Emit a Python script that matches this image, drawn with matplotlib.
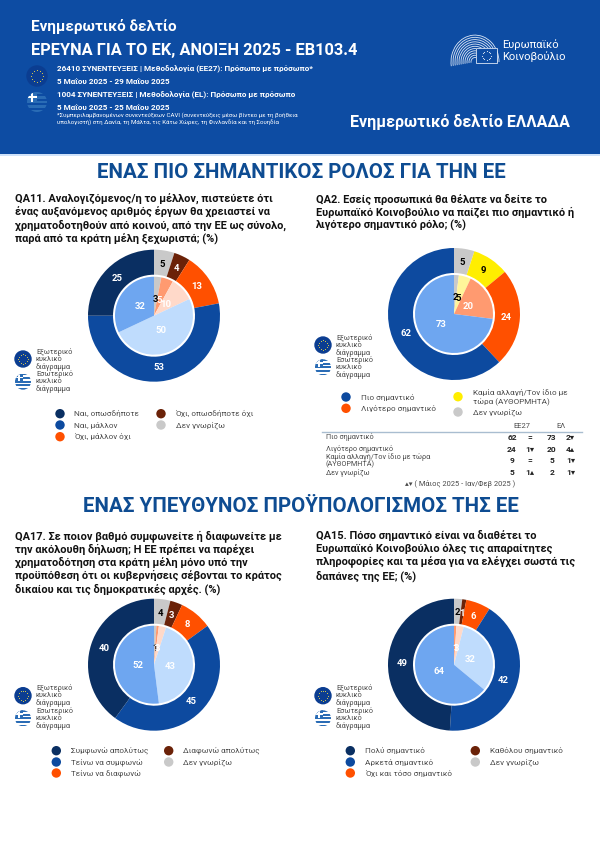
import numpy as np
import matplotlib
matplotlib.use("Agg")
import matplotlib.pyplot as plt
from matplotlib.patches import Circle, Rectangle, Arc

plt.rcParams['font.family'] = ['Roboto', 'DejaVu Sans']

W, H = 600, 848

# colours
NAVY = "#0a2f62"
BLUE = "#0d4a9f"
ORANGE = "#ff5000"
BROWN = "#6b2208"
GREY = "#c9c9c9"
YELLOW = "#ffee00"
MID = "#6ea6f0"
PALE = "#bfdcfd"
SALMON = "#ff9a70"
PEACH = "#ffd9c9"
PALEY = "#fff59a"
HEAD = "#0d4ca3"
TITLE = "#0e4c92"
TXT = "#4a4a4a"

# QA11
qa11_outer = [5, 4, 13, 53, 25]
qa11_inner = [3, 5, 10, 50, 32]
qa11_legend = ["Ναι, οπωσδήποτε", "Ναι, μάλλον", "Όχι, μάλλον όχι", "Όχι, οπωσδήποτε όχι", "Δεν γνωρίζω"]
qa11_text = ["QA11. Αναλογιζόμενος/η το μέλλον, πιστεύετε ότι",
             "ένας αυξανόμενος αριθμός έργων θα χρειαστεί να",
             "χρηματοδοτηθούν από κοινού, από την ΕΕ ως σύνολο,",
             "παρά από τα κράτη μέλη ξεχωριστά; (%)"]

# QA2
qa2_outer = [5, 9, 24, 62]
qa2_inner = [2, 5, 20, 73]
qa2_text = ["QA2. Εσείς προσωπικά θα θέλατε να δείτε το",
            "Ευρωπαϊκό Κοινοβούλιο να παίζει πιο σημαντικό ή",
            "λιγότερο σημαντικό ρόλο; (%)"]
qa2_rows = ["Πιο σημαντικό", "Λιγότερο σημαντικό", "Καμία αλλαγή/Τον ίδιο με τώρα\n(ΑΥΘΟΡΜΗΤΑ)", "Δεν γνωρίζω"]
qa2_eu = ["62", "24", "9", "5"]
qa2_eu_diff = ["=", "1▾", "=", "1▴"]
qa2_el = ["73", "20", "5", "2"]
qa2_el_diff = ["2▾", "4▴", "1▾", "1▾"]

# QA17
qa17_outer = [4, 3, 8, 45, 40]
qa17_inner = [1, 1, 3, 43, 52]
qa17_legend = ["Συμφωνώ απολύτως", "Τείνω να συμφωνώ", "Τείνω να διαφωνώ", "Διαφωνώ απολύτως", "Δεν γνωρίζω"]
qa17_text = ["QA17. Σε ποιον βαθμό συμφωνείτε ή διαφωνείτε με",
             "την ακόλουθη δήλωση; Η ΕΕ πρέπει να παρέχει",
             "χρηματοδότηση στα κράτη μέλη μόνο υπό την",
             "προϋπόθεση ότι οι κυβερνήσεις σέβονται το κράτος",
             "δικαίου και τις δημοκρατικές αρχές. (%)"]

# QA15
qa15_outer = [2, 1, 6, 42, 49]
qa15_inner = [0, 1, 3, 32, 64]
qa15_legend = ["Πολύ σημαντικό", "Αρκετά σημαντικό", "Όχι και τόσο σημαντικό", "Καθόλου σημαντικό", "Δεν γνωρίζω"]
qa15_text = ["QA15. Πόσο σημαντικό είναι να διαθέτει το",
             "Ευρωπαϊκό Κοινοβούλιο όλες τις απαραίτητες",
             "πληροφορίες και τα μέσα για να ελέγχει σωστά τις",
             "δαπάνες της ΕΕ; (%)"]

outer5 = [GREY, BROWN, ORANGE, BLUE, NAVY]
inner5 = [GREY, SALMON, PEACH, PALE, MID]
outer4 = [GREY, YELLOW, ORANGE, BLUE]
inner4 = [GREY, PALEY, SALMON, MID]
legend5 = [NAVY, BLUE, ORANGE, BROWN, GREY]

fig = plt.figure(figsize=(W / 100, H / 100), dpi=100, facecolor="white")
ax = fig.add_axes([0, 0, 1, 1])
ax.set_xlim(0, W)
ax.set_ylim(H, 0)
ax.axis("off")


def txt(x, y, s, size=6, color=TXT, weight="normal", ha="left"):
    ax.text(x, y, s, fontsize=size, color=color, fontweight=weight, ha=ha, va="center")


def eu_flag(x, y, r):
    ax.add_patch(Circle((x, y), r, color="#0b3d91", zorder=3))
    a = np.arange(12) * np.pi / 6
    ax.scatter(x + 0.62 * r * np.cos(a), y + 0.62 * r * np.sin(a), s=0.6, color="#e8d44a", lw=0, zorder=4)


def gr_flag(x, y, r):
    clip = Circle((x, y), r, transform=ax.transData)
    for i in range(0, 9, 2):
        ax.add_patch(Rectangle((x - r, y - r + i * 2 * r / 9), 2 * r, 2 * r / 9, color="#2a6cb5", lw=0, zorder=3, clip_path=clip))
    ax.add_patch(Rectangle((x - r, y - r), r * 0.95, r * 0.95, color="#2a6cb5", lw=0, zorder=3, clip_path=clip))
    ax.add_patch(Rectangle((x - r, y - r + 0.38 * r), r * 0.95, r * 0.19, color="white", lw=0, zorder=3, clip_path=clip))
    ax.add_patch(Rectangle((x - r + 0.38 * r, y - r), r * 0.19, r * 0.95, color="white", lw=0, zorder=3, clip_path=clip))


def donut(cx, cy, outer, inner, c_out, c_in):
    R = 66
    a = fig.add_axes([(cx - 70) / W, 1 - (cy + 70) / H, 140 / W, 140 / H])
    w1, _ = a.pie(outer, colors=c_out, startangle=90, counterclock=False, radius=R,
                  wedgeprops=dict(width=25, linewidth=0))
    w2, _ = a.pie(inner, colors=c_in, startangle=90, counterclock=False, radius=39,
                  wedgeprops=dict(linewidth=0))
    a.set_xlim(-70, 70)
    a.set_ylim(-70, 70)
    a.set_aspect("equal")
    a.axis("off")
    for wedges, vals, cols, r in [(w1, outer, c_out, 52), (w2, inner, c_in, 16.5)]:
        for w, v, c in zip(wedges, vals, cols):
            if v == 0:
                continue
            ang = np.radians((w.theta1 + w.theta2) / 2)
            col = "black" if c in (GREY, YELLOW, PALEY) else "white"
            a.text(r * np.cos(ang), r * np.sin(ang), str(v), color=col, fontsize=6.8,
                   fontweight="bold", ha="center", va="center")


def mini_legend(x, y1, y2):
    eu_flag(x, y1, 8)
    gr_flag(x, y2, 8)
    for yc, word in [(y1, "Εξωτερικό"), (y2, "Εσωτερικό")]:
        txt(x + 13, yc - 7.5, word, 5.3)
        txt(x + 13, yc, "κυκλικό", 5.3)
        txt(x + 13, yc + 7.5, "διάγραμμα", 5.3)


def legend(xs, ys, labels, cols):
    ax.scatter(xs, ys, s=46, c=cols, lw=0, zorder=3)
    for x, y, s in zip(xs, ys, labels):
        txt(x + 14.5, y, s, 5.9)


# header
ax.add_patch(Rectangle((0, 0), W, 154, color=HEAD, lw=0))
ax.add_patch(Rectangle((0, 154), W, 2, color="#cfe2fa", lw=0))
txt(31, 26, "Ενημερωτικό δελτίο", 11, "white", "bold")
txt(31, 50.5, "ΕΡΕΥΝΑ ΓΙΑ ΤΟ ΕΚ, ΑΝΟΙΞΗ 2025 - EB103.4", 11.8, "white", "bold")
txt(57, 69, "26410 ΣΥΝΕΝΤΕΥΞΕΙΣ | Μεθοδολογία (ΕΕ27): Πρόσωπο με πρόσωπο*", 5.9, "white", "bold")
txt(57, 81, "5 Μαΐου 2025 - 29 Μαΐου 2025", 5.9, "white", "bold")
txt(57, 95, "1004 ΣΥΝΕΝΤΕΥΞΕΙΣ | Μεθοδολογία (EL): Πρόσωπο με πρόσωπο", 5.9, "white", "bold")
txt(57, 107, "5 Μαΐου 2025 - 25 Μαΐου 2025", 5.9, "white", "bold")
txt(57, 115, "*Συμπεριλαμβανομένων συνεντεύξεων CAVI (συνεντεύξεις μέσω βίντεο με τη βοήθεια", 4.4, "white")
txt(57, 122, "υπολογιστή) στη Δανία, τη Μάλτα, τις Κάτω Χώρες, τη Φινλανδία και τη Σουηδία", 4.4, "white")
txt(350, 122, "Ενημερωτικό δελτίο ΕΛΛΑΔΑ", 11.5, "white", "bold")
eu_flag(37, 76, 10)
gr_flag(37, 102, 10)

# parliament logo
for d in range(8, 50, 4):
    ax.add_patch(Arc((475, 62), d, d * 1.12, theta1=170, theta2=360, color="#dbe6f5", lw=0.6))
ax.add_patch(Rectangle((476, 48), 21, 15, color=HEAD, lw=0, zorder=2))
ax.add_patch(Rectangle((476, 48), 21, 15, fill=False, ec="#dbe6f5", lw=0.6, zorder=3))
a_ = np.arange(12) * np.pi / 6
ax.scatter(486.5 + 4.5 * np.cos(a_), 55.5 + 4.5 * np.sin(a_), s=0.7, color="#dbe6f5", lw=0, zorder=4)
txt(502, 45, "Ευρωπαϊκό", 8, "white")
txt(502, 57, "Κοινοβούλιο", 8, "white")

# section titles
txt(301, 172, "ΕΝΑΣ ΠΙΟ ΣΗΜΑΝΤΙΚΟΣ ΡΟΛΟΣ ΓΙΑ ΤΗΝ ΕΕ", 14.8, TITLE, "bold", "center")
txt(301, 507, "ΕΝΑΣ ΥΠΕΥΘΥΝΟΣ ΠΡΟΫΠΟΛΟΓΙΣΜΟΣ ΤΗΣ ΕΕ", 14.8, TITLE, "bold", "center")

# questions
for x, y0, lines in [(15, 199, qa11_text), (315.5, 199, qa2_text), (15, 535.7, qa17_text), (315.5, 535.7, qa15_text)]:
    for i, s in enumerate(lines):
        txt(x, y0 + i * 13.4, s, 7.9, "#111111", "bold")

# donuts
donut(154, 315.7, qa11_outer, qa11_inner, outer5, inner5)
donut(454, 314, qa2_outer, qa2_inner, outer4, inner4)
donut(154, 664.7, qa17_outer, qa17_inner, outer5, inner5)
donut(454, 664.7, qa15_outer, qa15_inner, outer5, inner5)

mini_legend(23, 359, 381.7)
mini_legend(323, 345, 367.3)
mini_legend(23, 695.7, 718.3)
mini_legend(323, 695.7, 718.3)

legend([60, 60, 60, 161, 161], [413.7, 425, 436.7, 413.7, 425], qa11_legend, legend5)
legend([56.3, 56.3, 56.3, 168.7, 168.7], [750.7, 762, 773, 750.7, 762], qa17_legend, legend5)
legend([350.3, 350.3, 350.3, 475.3, 475.3], [750.7, 762, 773, 750.7, 762], qa15_legend, legend5)

# QA2 legend
ax.scatter([346, 346, 458, 458], [397, 408.3, 396.7, 412], s=46, c=[BLUE, ORANGE, YELLOW, GREY], lw=0, zorder=3)
txt(360.7, 397, "Πιο σημαντικό", 5.9)
txt(360.7, 408.3, "Λιγότερο σημαντικό", 5.9)
txt(472.7, 392.7, "Καμία αλλαγή/Τον ίδιο με", 5.9)
txt(472.7, 401, "τώρα (ΑΥΘΟΡΜΗΤΑ)", 5.9)
txt(472.7, 412.3, "Δεν γνωρίζω", 5.9)

# QA2 table
txt(522, 426, "ΕΕ27", 5.4, ha="center")
txt(560.7, 426, "ΕΛ", 5.4, ha="center")
ax.plot([322, 581.7], [432, 432], color="#a9bdd0", lw=1)
row_y = [437.3, 449.3, 460.7, 472.7]
for y, lab, a1, a2, b1, b2 in zip(row_y, qa2_rows, qa2_eu, qa2_eu_diff, qa2_el, qa2_el_diff):
    ax.text(325.7, y, lab, fontsize=5.2, color=TXT, ha="left", va="center", linespacing=0.95)
    txt(512, y, a1, 6, "#222222", "bold", "center")
    txt(530, y, a2, 6, "#222222", "bold", "center")
    txt(551.7, y, b1, 6, "#222222", "bold", "center")
    txt(570.7, y, b2, 6, "#222222", "bold", "center")
txt(460, 483.7, "▴▾ ( Μάιος 2025 - Ιαν/Φεβ 2025 )", 5.4, ha="center")

fig.savefig("out.png", dpi=100)
